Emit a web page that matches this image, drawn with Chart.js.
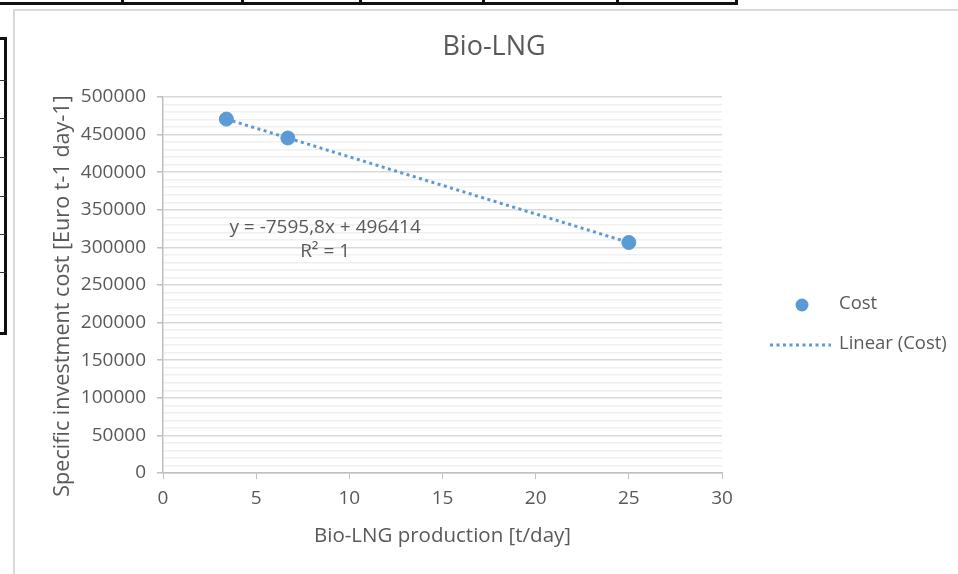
<!DOCTYPE html>
<html>
<head>
<meta charset="utf-8">
<script src="https://cdn.jsdelivr.net/npm/chart.js@4.4.1/dist/chart.umd.min.js"></script>
<style>
  html, body { margin: 0; padding: 0; background: #ffffff; }
  #wrap { position: relative; width: 958px; height: 574px; overflow: hidden; }
  .deco { position: absolute; box-sizing: border-box; }
  #frame { left: 13px; top: 9px; width: 960px; height: 580px; border-left: 2px solid #d9d9d9; border-top: 2px solid #d9d9d9; }
  #tableTop { left: -4px; top: -4px; width: 742px; height: 9px; border: 3px solid #111; }
  .tdiv { position: absolute; top: -4px; width: 3px; height: 9px; background: #111; }
  #leftBox { left: -6px; top: 37px; width: 13px; height: 298px; border: 3px solid #111; }
  .ldiv { position: absolute; left: -6px; width: 12px; height: 1px; background: #333; }
  #c { position: absolute; left: 0; top: 0; }
</style>
</head>
<body>
<div id="wrap">
  <div class="deco" id="frame"></div>
  <div class="deco" id="tableTop"></div>
  <div class="tdiv" style="left:121px"></div>
  <div class="tdiv" style="left:241px"></div>
  <div class="tdiv" style="left:359px"></div>
  <div class="tdiv" style="left:482px"></div>
  <div class="tdiv" style="left:616px"></div>
  <div class="deco" id="leftBox"></div>
  <div class="ldiv" style="top:80px"></div>
  <div class="ldiv" style="top:118px"></div>
  <div class="ldiv" style="top:157px"></div>
  <div class="ldiv" style="top:196px"></div>
  <div class="ldiv" style="top:234px"></div>
  <div class="ldiv" style="top:272px"></div>
  <canvas id="c" width="958" height="574"></canvas>
</div>
<script>
// ---- data ----
const chartTitle = "Bio-LNG";
const xAxisTitle = "Bio-LNG production [t/day]";
const yAxisTitle = "Specific investment cost [Euro t-1 day-1]";
const productionTPerDay = [3.4, 6.7, 25];
const costEuro = [470600, 445500, 306500];
const trendX = [3.4, 25];
const trendY = [470600, 306500];
const equationLines = ["y = -7595,8x + 496414", "R\u00B2 = 1"];
const seriesNames = ["Cost", "Linear (Cost)"];

const BLUE = "#5B9BD5";
const TXT = "#595959";
const FONT = "'Open Sans', 'Noto Sans', sans-serif";

const costPoints = productionTPerDay.map((x, i) => ({ x: x, y: costEuro[i] }));
const trendPoints = trendX.map((x, i) => ({ x: x, y: trendY[i] }));

const overlay = {
  id: "overlay",
  afterDatasetsDraw(chart) {
    const ctx = chart.ctx;
    const xs = chart.scales.x, ys = chart.scales.y;
    ctx.save();
    // title
    ctx.fillStyle = TXT;
    ctx.font = "27px " + FONT;
    ctx.textAlign = "center";
    ctx.textBaseline = "middle";
    ctx.fillText(chartTitle, 494, 47);
    // y axis title (rotated)
    ctx.save();
    ctx.translate(63, 296);
    ctx.rotate(-Math.PI / 2);
    ctx.font = "21.6px " + FONT;
    ctx.fillText(yAxisTitle, 0, 0);
    ctx.restore();
    // equation label anchored in data space
    ctx.font = "19px " + FONT;
    const ex = xs.getPixelForValue(8.7);
    const ey = ys.getPixelForValue(327000);
    ctx.fillText(equationLines[0], ex, ey);
    ctx.fillText(equationLines[1], ex, ey + 24);
    // legend
    const ds = chart.data.datasets;
    ctx.textAlign = "left";
    ctx.font = "18.5px " + FONT;
    ctx.fillStyle = ds[0].backgroundColor;
    ctx.beginPath();
    ctx.arc(802, 305, 6.5, 0, Math.PI * 2);
    ctx.fill();
    ctx.fillStyle = TXT;
    ctx.fillText(ds[0].label, 839, 304);
    ctx.strokeStyle = ds[1].borderColor;
    ctx.lineWidth = 3;
    ctx.setLineDash(ds[1].borderDash);
    ctx.beginPath();
    ctx.moveTo(770, 345);
    ctx.lineTo(831, 345);
    ctx.stroke();
    ctx.setLineDash([]);
    ctx.fillText(ds[1].label, 839, 344);
    ctx.restore();
  }
};

new Chart(document.getElementById("c"), {
  type: "scatter",
  data: {
    datasets: [
      {
        label: seriesNames[0],
        data: costPoints,
        backgroundColor: BLUE,
        borderColor: BLUE,
        pointRadius: 7,
        pointHoverRadius: 7,
        order: 0
      },
      {
        type: "line",
        label: seriesNames[1],
        data: trendPoints,
        showLine: true,
        borderColor: BLUE,
        borderWidth: 3,
        borderDash: [3, 3.5],
        pointRadius: 0,
        fill: false,
        order: 1
      }
    ]
  },
  options: {
    responsive: false,
    animation: false,
    devicePixelRatio: 1,
    layout: { padding: { left: 0, right: 236, top: 97, bottom: 0 } },
    plugins: {
      legend: { display: false },
      title: { display: false },
      tooltip: { enabled: false }
    },
    scales: {
      x: {
        type: "linear",
        min: 0, max: 30,
        ticks: { stepSize: 5, color: TXT, font: { family: FONT, size: 19 }, padding: 8, maxRotation: 0 },
        grid: { drawOnChartArea: false, drawTicks: true, tickLength: 6, tickColor: "#bfbfbf", color: "#bfbfbf" },
        border: { color: "#bfbfbf", width: 1.5 },
        title: { display: true, text: xAxisTitle, color: TXT, font: { family: FONT, size: 20.5 }, padding: { top: 4, bottom: 26 } },
        afterFit(s) { s.height = 101; }
      },
      y: {
        type: "linear",
        min: 0, max: 500000,
        ticks: {
          stepSize: 10000,
          autoSkip: false,
          color: TXT,
          font: { family: FONT, size: 19 },
          padding: 11,
          callback: (v) => (v % 50000 === 0 ? String(v) : "")
        },
        grid: {
          tickLength: 6,
          color: (c) => (c.tick && c.tick.value % 50000 === 0 ? "#d9d9d9" : "#f0f0f0"),
          tickColor: (c) => (c.tick && c.tick.value % 50000 === 0 ? "#bfbfbf" : "rgba(0,0,0,0)"),
          lineWidth: 1.5
        },
        border: { color: "#bfbfbf", width: 1.5 },
        title: { display: false },
        afterFit(s) { s.width = 163; }
      }
    }
  },
  plugins: [overlay]
});
</script>
</body>
</html>
